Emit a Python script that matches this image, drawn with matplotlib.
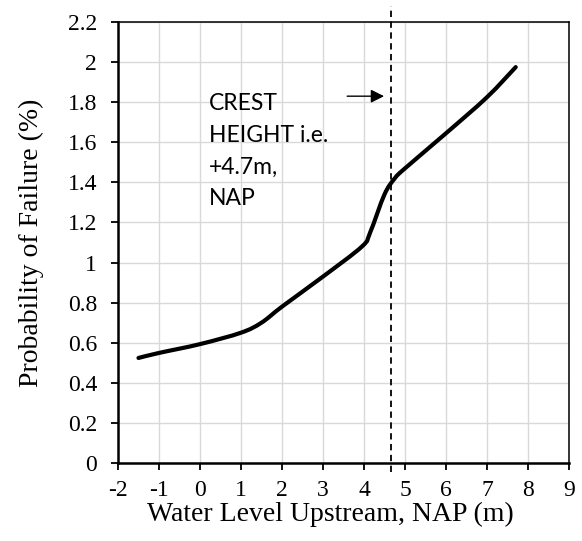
import numpy as np
import matplotlib.pyplot as plt
from matplotlib.path import Path
from matplotlib.patches import PathPatch

plt.rcParams['axes.unicode_minus'] = False

# data
water_level = [-1.5, -1, 0, 1, 1.5, 2, 3, 3.95, 4.15, 4.5, 4.75, 5.0, 6.0, 7.0, 7.7]
prob_failure = [0.524, 0.549, 0.593, 0.65, 0.70, 0.78, 0.93, 1.08, 1.15, 1.34, 1.42,
                1.47, 1.645, 1.825, 1.975]
crest_level = 4.66
x_ticks = list(range(-2, 10))
y_ticks = [0, 0.2, 0.4, 0.6, 0.8, 1, 1.2, 1.4, 1.6, 1.8, 2, 2.2]
y_tick_labels = ['0', '0.2', '0.4', '0.6', '0.8', '1', '1.2', '1.4', '1.6', '1.8', '2', '2.2']
note = "CREST\nHEIGHT i.e.\n+4.7m,\nNAP"

serif = 'Liberation Serif'


def smooth_path(xs, ys, k=1 / 6):
    # Excel-like smoothed line: Catmull-Rom segments as cubic Beziers
    p = np.column_stack([xs, ys]).astype(float)
    verts = [p[0]]
    codes = [Path.MOVETO]
    n = len(p)
    for i in range(n - 1):
        p0 = p[i - 1] if i > 0 else p[i]
        p3 = p[i + 2] if i + 2 < n else p[i + 1]
        c1 = p[i] + (p[i + 1] - p0) * k
        c2 = p[i + 1] - (p3 - p[i]) * k
        verts += [c1, c2, p[i + 1]]
        codes += [Path.CURVE4] * 3
    return Path(verts, codes)


fig = plt.figure(figsize=(5.82, 5.41), dpi=100)
ax = fig.add_axes([0.2027, 0.1442, 0.775, 0.8151])

ax.add_patch(PathPatch(smooth_path(water_level, prob_failure), fill=False,
                       edgecolor='black', lw=3, capstyle='round', joinstyle='round',
                       zorder=3))

# crest height line, runs past the plot area
ax.plot([crest_level, crest_level], [-0.045, 2.28], color='black', lw=1.3,
        ls=(0, (3.5, 2.5)), clip_on=False, zorder=3)

ax.annotate('', xy=(4.49, 1.83), xytext=(3.59, 1.83),
            arrowprops=dict(arrowstyle='-|>', color='black', lw=1, mutation_scale=20,
                            shrinkA=0, shrinkB=0))
ax.text(0.22, 1.555, note, family='Lato', fontsize=16.5, va='center', ha='left',
        linespacing=1.62)

ax.set_xlim(-2, 9)
ax.set_ylim(0, 2.2)
ax.set_xticks(x_ticks)
ax.set_yticks(y_ticks)
ax.set_yticklabels(y_tick_labels)
ax.grid(True, color='#d9d9d9', lw=1)
ax.set_axisbelow(True)

ax.tick_params(direction='out', length=5, width=1.3, color='black',
               labelsize=17, labelfontfamily=serif)
ax.tick_params(axis='y', pad=10)
ax.tick_params(axis='x', pad=7)

ax.spines['left'].set_linewidth(1.8)
ax.spines['bottom'].set_linewidth(1.8)
ax.spines['top'].set_linewidth(1.1)
ax.spines['right'].set_linewidth(1.1)

ax.set_xlabel('Water Level Upstream, NAP (m)', family=serif, fontsize=20)
ax.set_ylabel('Probability of Failure (%)', family=serif, fontsize=20)
ax.xaxis.set_label_coords(0.47, -0.088)
ax.yaxis.set_label_coords(-0.165, 0.5)

fig.savefig('out.png', dpi=100)
